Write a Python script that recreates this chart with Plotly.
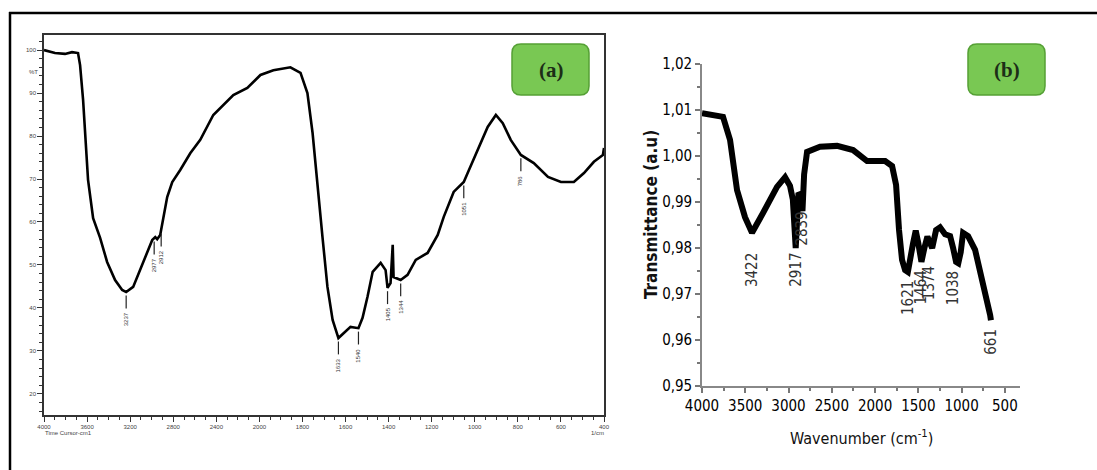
import numpy as np
import plotly.graph_objects as go

# ---------------- Panel (a) data : FTIR spectrum, %T ----------------
a_wavenumber = [4000, 3898, 3805, 3740, 3684, 3665, 3637, 3591, 3544, 3479,
                3414, 3340, 3274, 3237, 3172, 3107, 3042, 2995, 2967, 2949,
                2921, 2893, 2856, 2809, 2735, 2642, 2549, 2428, 2242, 2112,
                1995, 1935, 1856, 1809, 1777, 1753, 1730, 1707, 1684, 1660,
                1633, 1609, 1577, 1540, 1521, 1498, 1474, 1437, 1414, 1405,
                1391, 1381, 1377, 1344, 1312, 1274, 1219, 1172, 1144, 1098,
                1051, 1033, 986, 940, 902, 870, 833, 786, 726, 660,
                600, 540, 493, 447, 405, 400]
a_transmittance = [100, 99.3, 99.1, 99.5, 99.3, 96.5, 88.4, 69.8, 60.9, 56.3,
                   50.7, 46.5, 44.2, 43.7, 44.9, 48.8, 52.8, 55.8, 56.5, 56.0,
                   57.0, 60.5, 65.8, 69.3, 72.1, 76.0, 79.1, 84.9, 89.5, 91.2,
                   94.2, 95.3, 96.0, 94.7, 90.0, 80.7, 68.1, 56.5, 44.9, 37.2,
                   33.0, 34.2, 35.6, 35.3, 37.7, 42.6, 48.4, 50.5, 48.8, 44.7,
                   45.8, 54.7, 47.2, 46.5, 47.7, 51.2, 52.8, 57.0, 61.2, 67.0,
                   69.3, 71.4, 76.7, 82.1, 84.9, 83.0, 79.1, 75.6, 73.7, 70.5,
                   69.3, 69.3, 71.4, 74.0, 75.6, 77.2]
a_peaks = [3237, 2977, 2912, 1633, 1540, 1405, 1344, 1051, 786]
a_xticks = [4000, 3600, 3200, 2800, 2400, 2000, 1800, 1600, 1400, 1200, 1000, 800, 600, 400]
a_yticks = [20, 30, 40, 50, 60, 70, 80, 90, 100]

# ---------------- Panel (b) data ----------------
b_wavenumber = [4000, 3900, 3800, 3757, 3676, 3642, 3595, 3503, 3422, 3295,
                3133, 3040, 2983, 2950, 2917, 2885, 2860, 2839, 2820, 2786,
                2636, 2439, 2254, 2092, 1884, 1803, 1757, 1723, 1688, 1653,
                1621, 1561, 1530, 1500, 1464, 1430, 1395, 1374, 1340, 1295,
                1249, 1191, 1133, 1098, 1064, 1038, 1010, 983, 950, 925,
                844, 786, 728, 670, 661]
b_transmittance = [1.0093, 1.0090, 1.0088, 1.0085, 1.0035, 0.9985, 0.9926, 0.9867, 0.9833, 0.9876,
                   0.9933, 0.9954, 0.9935, 0.9905, 0.9800, 0.9920, 0.9915, 0.9880, 0.9960, 1.0009,
                   1.0020, 1.0022, 1.0013, 0.9989, 0.9989, 0.9978, 0.9937, 0.9839, 0.9774, 0.9752,
                   0.9748, 0.9810, 0.9838, 0.9810, 0.9770, 0.9800, 0.9825, 0.9815, 0.9800, 0.9839,
                   0.9845, 0.9830, 0.9826, 0.9800, 0.9770, 0.9767, 0.9791, 0.9833, 0.9830, 0.9826,
                   0.9796, 0.9752, 0.9709, 0.9654, 0.9643]
b_peak_labels = ["3422", "2917", "2839", "1621", "1464", "1374", "1038", "661"]
b_label_x = [3422, 2917, 2839, 1621, 1464, 1374, 1098, 661]
b_label_y = [0.9752, 0.9752, 0.9843, 0.9691, 0.9715, 0.9724, 0.9713, 0.9596]
b_xticks = [4000, 3500, 3000, 2500, 2000, 1500, 1000, 500]
b_yticks = [0.95, 0.96, 0.97, 0.98, 0.99, 1.00, 1.01, 1.02]

W, H = 1097, 470


def px(x):
    return x / W


def py(y):
    return 1 - y / H


def wn_to_axis(w):
    """Instrument scale: 4000-2000 cm-1 compressed 2x."""
    w = np.asarray(w, dtype=float)
    return np.where(w > 2000, 2000 + (w - 2000) / 2, w)


fig = go.Figure()

# spectrum (a)
fig.add_trace(go.Scatter(x=wn_to_axis(a_wavenumber), y=a_transmittance, mode="lines",
                         line=dict(color="black", width=2.6), xaxis="x", yaxis="y",
                         showlegend=False, hoverinfo="skip"))

# peak markers (a)
mx, my = [], []
a_x_sorted = np.array(a_wavenumber[::-1], float)
a_y_sorted = np.array(a_transmittance[::-1], float)
for p in a_peaks:
    t = float(np.interp(p, a_x_sorted, a_y_sorted))
    u = float(wn_to_axis(p))
    mx += [u, u, None]
    my += [t - 0.8, t - 3.8, None]
fig.add_trace(go.Scatter(x=mx, y=my, mode="lines", line=dict(color="#222", width=1.2),
                         xaxis="x", yaxis="y", showlegend=False, hoverinfo="skip"))

# spectrum (b)
fig.add_trace(go.Scatter(x=b_wavenumber, y=b_transmittance, mode="lines",
                         line=dict(color="black", width=6), xaxis="x2", yaxis="y2",
                         showlegend=False, hoverinfo="skip"))

annotations = []
for p in a_peaks:
    t = float(np.interp(p, a_x_sorted, a_y_sorted))
    annotations.append(dict(x=float(wn_to_axis(p)), y=t - 4.2, xref="x", yref="y",
                            text=str(p), showarrow=False, textangle=-90,
                            yanchor="top", xanchor="center",
                            font=dict(family="Liberation Sans", size=6, color="#333")))

narrow = "DejaVu Sans Condensed, Liberation Sans, sans-serif"
for lab, lx, ly in zip(b_peak_labels, b_label_x, b_label_y):
    annotations.append(dict(x=lx, y=ly, xref="x2", yref="y2", text=lab, showarrow=False,
                            textangle=-90, xanchor="center", yanchor="middle",
                            font=dict(family=narrow, size=15, color="#333")))


def ptext(x, y, text, font, angle=0):
    return dict(x=px(x), y=py(y), xref="paper", yref="paper", showarrow=False,
                xanchor="center", yanchor="middle", text=text, textangle=angle, font=font)


small = dict(family="Liberation Sans", size=6, color="#444")
big = dict(family=narrow, size=15, color="#000")

annotations += [
    ptext(861, 437, "Wavenumber (cm<sup>-1</sup>)", dict(family=narrow, size=16, color="#111")),
    ptext(651, 215, "<b>Transmittance (a.u)</b>", dict(family=narrow, size=17, color="#111"), -90),
    ptext(33, 72, "%T", small),
    ptext(68, 433, "Time Cursor-cm1", small),
    ptext(597, 433, "1/cm", small),
    ptext(551, 70, "<b>(a)</b>", dict(family="Liberation Serif", size=21, color="#1c2e17")),
    ptext(1007, 70, "<b>(b)</b>", dict(family="Liberation Serif", size=21, color="#1c2e17")),
]


def rounded_rect(x0, y0, x1, y1, r):
    # pixel coordinates -> paper path
    def P(x, y):
        return f"{px(x):.5f},{py(y):.5f}"
    return (f"M {P(x0 + r, y0)} L {P(x1 - r, y0)} Q {P(x1, y0)} {P(x1, y0 + r)} "
            f"L {P(x1, y1 - r)} Q {P(x1, y1)} {P(x1 - r, y1)} "
            f"L {P(x0 + r, y1)} Q {P(x0, y1)} {P(x0, y1 - r)} "
            f"L {P(x0, y0 + r)} Q {P(x0, y0)} {P(x0 + r, y0)} Z")


shapes = [
    dict(type="line", xref="paper", yref="paper", x0=px(9), x1=1.0, y0=py(13), y1=py(13),
         line=dict(color="black", width=2.5)),
    dict(type="line", xref="paper", yref="paper", x0=px(10), x1=px(10), y0=py(12), y1=0.0,
         line=dict(color="black", width=2.5)),
    dict(type="path", xref="paper", yref="paper", path=rounded_rect(512, 44, 589, 95, 9),
         fillcolor="#79c853", line=dict(color="#55a035", width=1.5), layer="below"),
    dict(type="path", xref="paper", yref="paper", path=rounded_rect(968, 44, 1045, 95, 9),
         fillcolor="#79c853", line=dict(color="#55a035", width=1.5), layer="below"),
]

fig.update_layout(
    width=W, height=H, autosize=False,
    margin=dict(l=0, r=0, t=0, b=0, pad=0, autoexpand=False),
    paper_bgcolor="white", plot_bgcolor="rgba(0,0,0,0)", showlegend=False,
    xaxis=dict(domain=[px(44), px(604)], range=[3000, 400], anchor="y", automargin=False,
               tickmode="array", tickvals=list(wn_to_axis(a_xticks)),
               ticktext=[str(v) for v in a_xticks], tickfont=small,
               ticks="outside", ticklen=5, tickwidth=1.2, tickcolor="#333",
               minor=dict(ticks="outside", ticklen=3, tickcolor="#333", dtick=50, tick0=400, showgrid=False),
               showline=True, linecolor="#333", linewidth=1.6, mirror=True,
               showgrid=False, zeroline=False),
    yaxis=dict(domain=[py(415), py(35)], range=[15.1, 103.5], anchor="x", automargin=False,
               tickmode="array", tickvals=a_yticks, ticktext=[str(v) for v in a_yticks],
               tickfont=small, ticks="outside", ticklen=5, tickwidth=1.2, tickcolor="#333",
               minor=dict(ticks="outside", ticklen=3, tickcolor="#333", dtick=2, tick0=0, showgrid=False),
               showline=True, linecolor="#333", linewidth=1.6, mirror=True,
               showgrid=False, zeroline=False),
    xaxis2=dict(domain=[px(702), px(1020)], range=[4000, 325], anchor="y2", automargin=False,
                tickmode="array", tickvals=b_xticks, ticktext=[str(v) for v in b_xticks],
                tickfont=big, ticks="outside", ticklen=5, tickwidth=1.5, tickcolor="#777",
                minor=dict(ticks="outside", ticklen=3, tickcolor="#777", dtick=250, tick0=0, showgrid=False),
                showline=True, linecolor="#888", linewidth=1.6, mirror=False,
                showgrid=False, zeroline=False),
    yaxis2=dict(domain=[py(386), py(64)], range=[0.95, 1.02], anchor="x2", automargin=False,
                tickmode="array", tickvals=b_yticks,
                ticktext=[f"{v:.2f}".replace(".", ",") for v in b_yticks],
                tickfont=big, ticks="outside", ticklen=5, tickwidth=1.5, tickcolor="#777",
                minor=dict(ticks="outside", ticklen=3, tickcolor="#777", dtick=0.005, tick0=0, showgrid=False),
                showline=True, linecolor="#888", linewidth=1.6, mirror=False,
                showgrid=False, zeroline=False),
    annotations=annotations,
    shapes=shapes,
)

fig.write_html("out.html", config={"displayModeBar": False},
               post_script="document.body.style.margin='0px';document.body.style.overflow='hidden';")
